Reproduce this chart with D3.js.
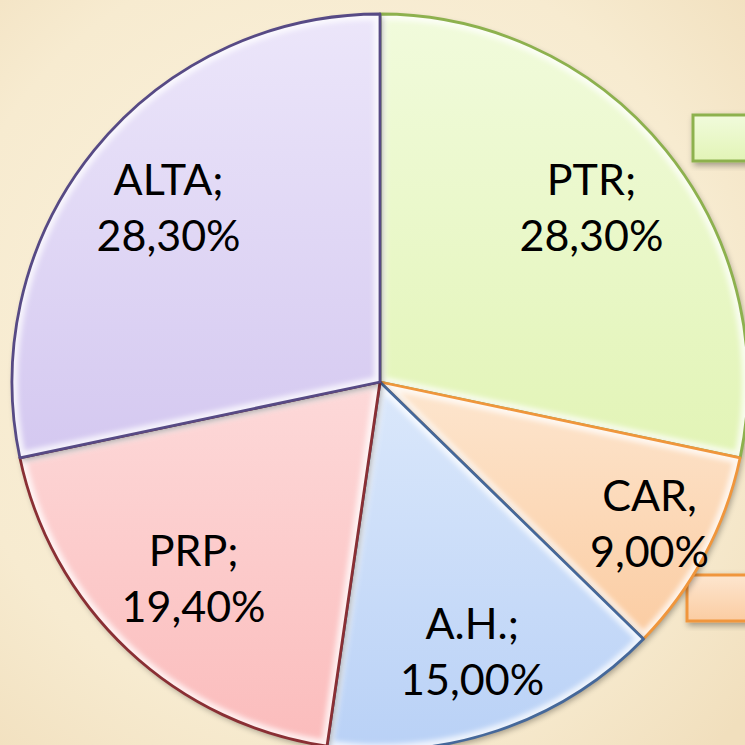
<!DOCTYPE html>
<html><head><meta charset="utf-8">
<script src="https://cdn.jsdelivr.net/npm/d3@7/dist/d3.min.js"></script>
<style>html,body{margin:0;padding:0;background:#f6eacd;overflow:hidden}</style>
</head><body>
<svg id="chart" width="745" height="745"></svg>
<script>
const categories = ["PTR", "CAR", "A.H.", "PRP", "ALTA"];
const values = [28.3, 9.0, 15.0, 19.4, 28.3];
const labelTexts = ["PTR;", "CAR,", "A.H.;", "PRP;", "ALTA;"];
const percentTexts = ["28,30%", "9,00%", "15,00%", "19,40%", "28,30%"];
const fillTop = ["#f1fbdc", "#fde6cf", "#dbe8fb", "#fdd9d9", "#ece6fa"];
const fillBottom = ["#e2f4b6", "#fbcca2", "#b9d1f6", "#fbbcbc", "#d4c8f0"];
const strokeColors = ["#8db14e", "#f0963c", "#45689a", "#8a2f34", "#574a85"];

const svg = d3.select("#chart");
const W = 745, H = 745;
const cx = 380, cy = 382, R = 368;
const defs = svg.append("defs");

// background parchment
const bg = defs.append("radialGradient").attr("id","bg").attr("cx","45%").attr("cy","45%").attr("r","75%");
bg.append("stop").attr("offset","0%").attr("stop-color","#fbf3df");
bg.append("stop").attr("offset","70%").attr("stop-color","#f7ebd0");
bg.append("stop").attr("offset","100%").attr("stop-color","#f1dfbd");
svg.append("rect").attr("width",W).attr("height",H).attr("fill","url(#bg)");

// shadow filter
const sh = defs.append("filter").attr("id","shadow").attr("x","-20%").attr("y","-20%").attr("width","140%").attr("height","140%");
sh.append("feGaussianBlur").attr("in","SourceAlpha").attr("stdDeviation",3);
sh.append("feOffset").attr("dx",2).attr("dy",3).attr("result","ob");
sh.append("feComponentTransfer").append("feFuncA").attr("type","linear").attr("slope",0.35);
const m = sh.append("feMerge"); m.append("feMergeNode"); m.append("feMergeNode").attr("in","SourceGraphic");

const blur = defs.append("filter").attr("id","blur");
blur.append("feGaussianBlur").attr("stdDeviation",2.5);

categories.forEach((c,i)=>{
  const g = defs.append("linearGradient").attr("id","g"+i).attr("x1",0).attr("y1",0).attr("x2",0).attr("y2",1);
  g.append("stop").attr("offset","0%").attr("stop-color",fillTop[i]);
  g.append("stop").attr("offset","100%").attr("stop-color",fillBottom[i]);
});

// legend-like boxes partially off-canvas
const boxes = [{i:0,x:693,y:115,w:70,h:46},{i:1,x:687,y:575,w:76,h:46}];
svg.selectAll("rect.box").data(boxes).join("rect").attr("class","box")
  .attr("x",d=>d.x).attr("y",d=>d.y).attr("width",d=>d.w).attr("height",d=>d.h)
  .attr("fill",d=>`url(#g${d.i})`).attr("stroke",d=>strokeColors[d.i]).attr("stroke-width",3)
  .attr("filter","url(#shadow)");

const pie = d3.pie().sort(null).value(d=>d)(values);
const arc = d3.arc().innerRadius(0).outerRadius(R);
const g = svg.append("g").attr("transform",`translate(${cx},${cy})`);

pie.forEach((p,i)=>{
  defs.append("clipPath").attr("id","clip"+i).append("path").attr("d",arc(p));
});

const slices = g.selectAll("g.slice").data(pie).join("g").attr("class","slice");
slices.append("path").attr("d",arc).attr("fill",(d,i)=>`url(#g${i})`).attr("filter","url(#shadow)");
// bevel highlight
slices.append("path").attr("d",arc).attr("fill","none").attr("stroke","#ffffff")
  .attr("stroke-width",12).attr("stroke-opacity",0.75).attr("filter","url(#blur)")
  .attr("clip-path",(d,i)=>`url(#clip${i})`);
slices.append("path").attr("d",arc).attr("fill","none")
  .attr("stroke",(d,i)=>strokeColors[i]).attr("stroke-width",2.8).attr("stroke-linejoin","round");

// labels
const labelFactor = i => categories[i]==="CAR" ? 0.83 : (categories[i]==="A.H." ? 0.78 : 0.74);
const fs = 43;
const labels = g.selectAll("text.lbl").data(pie).join("text").attr("class","lbl")
  .attr("font-family","Lato, 'Open Sans', sans-serif").attr("font-size",fs).attr("fill","#000")
  .attr("text-anchor","middle")
  .attr("transform",(d,i)=>{
    const a = (d.startAngle+d.endAngle)/2, r = R*labelFactor(i);
    return `translate(${r*Math.sin(a)},${-r*Math.cos(a)})`;
  });
labels.append("tspan").attr("x",0).attr("y",-15).text((d,i)=>labelTexts[i]);
labels.append("tspan").attr("x",0).attr("y",41).text((d,i)=>percentTexts[i]);
</script>
</body></html>
